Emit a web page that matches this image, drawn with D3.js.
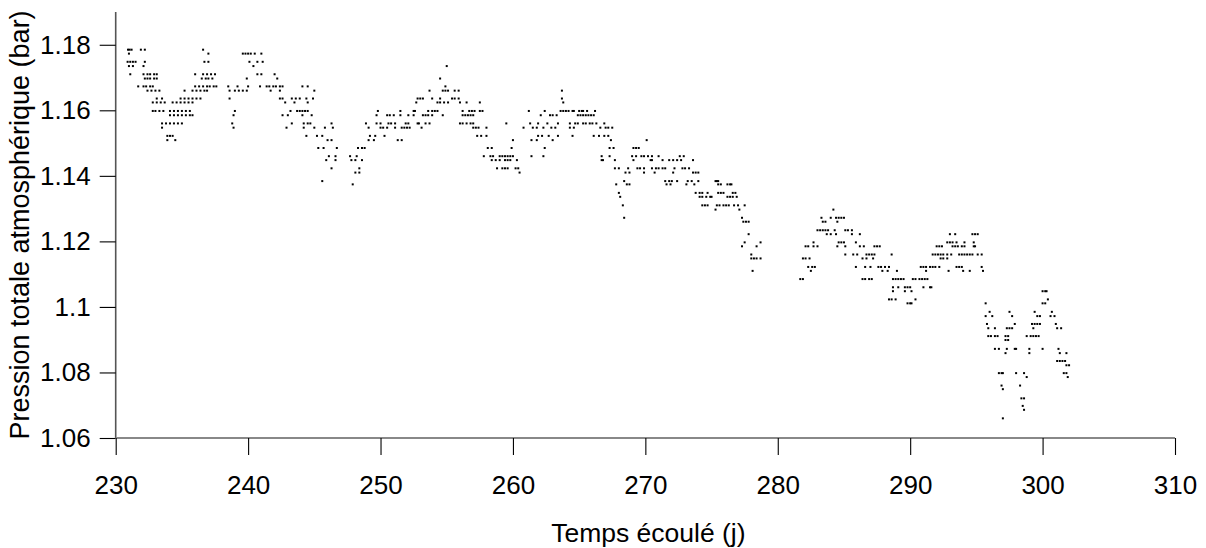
<!DOCTYPE html>
<html><head><meta charset="utf-8">
<script src="https://cdn.jsdelivr.net/npm/d3@7"></script>
<style>body{margin:0;background:#fff}svg{display:block}text{font-family:"Liberation Sans",Arial,Helvetica,sans-serif;fill:#000}</style>
</head><body><svg id="c" width="1206" height="548"></svg>
<script>
const xTicks = [230,240,250,260,270,280,290,300,310];
const yTicks = [1.06,1.08,1.10,1.12,1.14,1.16,1.18];
const yTickLabels = ["1.06","1.08","1.1","1.12","1.14","1.16","1.18"];
const xTitle = "Temps écoulé (j)";
const yTitle = "Pression totale atmosphérique (bar)";

// pressure levels (bar) and the days (j) at which each level was recorded
const pressureLevels = [1.1785,1.1773,1.1748,1.1735,1.171,1.1697,1.1673,1.166,1.1636,1.1624,1.1598,1.1585,1.156,1.1547,1.1522,1.1509,1.1485,1.146,1.1448,1.1423,1.141,1.1384,1.1374,1.1348,1.1336,1.131,1.1297,1.1272,1.126,1.1234,1.1222,1.1197,1.1185,1.116,1.1148,1.1122,1.111,1.1085,1.106,1.1048,1.1023,1.1011,1.0985,1.0972,1.0948,1.0935,1.0911,1.0899,1.0872,1.0859,1.0835,1.0822,1.0798,1.0786,1.076,1.0749,1.0721,1.0698,1.0686,1.066];
const daysAtLevel = [
[230.93,231.05,231.2,231.9,232.2,236.6],
[231.0,237.0,239.6,239.8,240.0,240.2,240.5,241.0],
[230.9,231.1,231.3,231.5,232.2,236.7,237.0,240.1,240.7,241.1],
[231.0,231.3,232.1,240.4,255.0],
[231.1,232.1,232.4,232.6,232.9,233.1,236.0,236.6,236.9,237.2,237.5,240.7,241.0,242.0],
[232.2,232.4,232.6,232.9,233.1,236.5,236.8,237.0,237.3,239.9,242.2,254.5],
[231.7,232.1,232.3,232.6,232.8,236.0,236.3,236.6,236.9,237.1,237.4,237.6,238.5,239.2,240.0,240.9,241.4,241.6,241.9,242.1,242.4,242.6,244.1,244.5,254.9],
[232.4,232.7,233.0,233.3,235.2,235.8,236.1,236.4,236.7,236.9,238.6,239.0,239.3,239.6,239.9,241.7,242.4,245.0,253.7,254.7,254.9,255.1,255.6,255.9,263.7],
[233.1,233.5,234.9,235.2,235.5,235.8,236.1,236.4,238.6,242.4,242.6,243.3,243.6,243.9,244.4,244.9,252.8,253.0,253.2,253.9,254.5,255.4,255.6,255.9,263.7],
[232.8,233.1,233.4,233.7,234.3,234.6,234.9,235.2,235.5,235.8,242.8,243.5,244.5,252.7,254.3,254.5,254.8,255.1,256.0,256.5,257.5,263.8],
[232.8,233.0,233.3,233.6,234.1,234.4,234.7,235.0,235.3,235.6,239.0,243.2,243.7,243.9,244.1,244.3,244.5,249.8,251.5,252.5,252.6,253.6,253.9,254.1,254.3,256.2,256.7,256.9,257.1,257.5,257.7,261.2,262.4,263.6,263.8,264.0,264.2,264.5,264.6,265.0,265.2,265.3,265.6,266.2],
[234.1,234.4,234.7,235.0,235.3,235.6,235.8,238.9,242.6,243.0,244.1,244.8,249.7,250.5,250.7,251.0,251.5,252.1,252.5,253.2,253.4,253.6,253.9,254.7,256.2,256.4,256.6,256.8,257.0,262.1,262.8,263.0,263.3,264.9,265.1,265.3,265.5,265.7,265.9,266.1],
[233.5,233.8,234.1,234.4,234.7,235.0,238.8,243.3,244.2,244.5,244.7,246.3,248.9,249.7,250.0,250.6,250.8,251.1,251.9,252.1,252.8,252.9,253.4,253.7,256.0,256.2,256.5,256.8,257.0,259.5,261.3,261.9,262.6,263.4,264.3,264.7,264.9,265.3,265.5,265.8,266.0,266.3,266.9],
[233.5,238.9,242.9,244.2,245.0,245.8,246.4,249.1,250.0,250.2,250.5,251.1,251.6,251.8,252.0,252.2,253.1,257.0,257.2,257.4,258.0,260.8,261.5,261.8,262.3,262.9,263.2,264.3,264.6,266.6,267.0,267.2,267.5],
[233.9,234.1,234.3,244.4,245.2,245.6,249.2,249.6,250.3,257.3,257.6,258.0,261.9,262.2,262.7,263.4,264.5,266.1,266.5,266.9,267.2],
[233.9,234.5,246.0,246.3,249.1,249.5,251.3,251.6,260.0,261.4,261.8,263.0,267.4,270.1],
[245.3,245.7,246.7,248.3,248.6,248.8,258.1,258.4,259.9,262.4,267.3,267.6,269.1,269.3,269.5],
[246.1,246.6,247.7,248.2,257.8,258.3,258.5,259.0,259.2,259.4,259.6,259.8,260.0,261.4,262.3,266.7,267.3,269.0,269.3,269.7,269.9,270.2,270.5,271.0,272.6,272.9],
[245.9,246.6,247.8,248.1,248.6,258.4,258.7,259.0,259.4,259.6,259.8,260.3,266.7,266.8,267.7,269.1,270.4,270.5,271.3,271.8,272.1,272.4,272.7,273.6],
[246.3,248.4,258.8,259.2,259.4,259.6,260.2,260.4,267.7,268.0,268.7,269.4,269.6,269.9,270.5,270.8,271.0,271.3,271.5,272.2,272.8,273.0,273.3],
[248.1,248.4,260.5,268.5,268.8,269.9,270.7,272.1,273.6,273.8,274.0],
[245.6,268.4,271.5,271.8,272.0,272.4,273.2,273.5,274.0,275.3,275.4,275.5],
[247.9,267.8,268.6,268.8,271.6,271.9,273.1,273.7,275.5,275.7,276.2,276.4,276.5],
[268.0,273.8,274.1,274.3,274.7,275.5,275.7,275.9,276.6,276.8],
[268.1,274.1,274.3,274.6,274.9,275.0,276.2,276.4,276.6,276.9],
[268.3,274.3,274.5,274.7,275.4,275.6,275.9,276.1,276.3,276.7,277.0,277.5],
[275.3,277.1,284.2],
[268.4,277.3,283.3,284.0,284.4,284.6,284.8,285.0],
[277.4,277.6,277.8,283.4,283.6,284.5],
[283.0,283.2,283.4,283.6,283.8,284.3,285.1,285.3,285.6],
[277.8,283.7,284.0,284.4,285.6,286.2,293.0,293.4,294.7,294.9,295.1],
[277.5,278.7,282.7,284.6,284.8,285.0,285.9,292.8,293.0,293.2,293.5,294.1,294.8],
[277.3,278.4,282.1,282.3,282.7,283.0,284.5,285.1,286.2,286.5,287.3,287.5,287.7,292.0,292.2,292.4,293.2,293.4,293.6,293.9,294.1,294.8,294.9],
[278.0,285.1,285.7,286.0,286.7,286.9,287.1,287.3,288.6,291.7,291.9,292.1,292.3,292.5,292.8,293.1,293.7,293.9,294.1,294.3,294.5,294.7,295.1,295.4],
[278.0,278.2,278.4,278.7,281.9,282.1,282.4,286.4,286.7,287.2,292.3,292.5,292.8],
[282.3,282.6,282.8,285.9,286.6,287.0,287.6,287.8,288.1,288.4,290.8,291.0,291.2,291.5,291.7,291.9,292.2,293.5,293.7,293.9,295.4],
[278.1,282.5,287.9,288.3,289.0,291.2,292.9,294.0,294.5,295.5],
[281.7,281.9,286.4,286.6,286.9,287.1,288.7,288.9,289.1,289.3,289.5,290.2,290.4,290.7,290.9,291.1,291.3],
[288.7,289.1,289.6,289.8,290.0,291.0,291.5,291.6],
[288.7,289.6,290.1,300.0,300.2,300.3],
[288.4,288.6,288.9,290.4,300.4],
[289.8,290.0,290.1,295.7,300.0,300.2],
[296.0,297.5,299.4,300.7],
[295.7,296.2,297.7,299.6,299.8,300.6,300.9],
[295.8,297.9,299.2,299.4,299.6,299.8,301.0],
[295.9,296.4,297.3,297.5,297.7,299.3,301.1,301.4],
[295.9,296.1,296.4,296.6,297.2,297.4,298.8,299.1,299.3,299.5,299.7],
[297.2,297.4],
[296.4,296.7,297.3,297.9,298.0,299.0,300.0,301.2],
[297.2,299.0,301.3,301.8],
[301.1,301.3,301.5,301.7],
[301.8,302.0],
[296.7,296.9,297.0,298.0,298.6,301.6,301.8],
[298.8,301.9],
[296.9,298.3],
[297.0],
[298.4,298.6],
[298.5],
[298.6],
[297.0]
];

const points = pressureLevels.flatMap((p, i) => daysAtLevel[i].map(d => ({day: d, p: p})));

const svg = d3.select("#c");
const x = d3.scaleLinear().domain([230, 310]).range([115.7, 1175]);
const y = d3.scaleLinear().domain([1.06, 1.19]).range([438, 12]);

// points
svg.append("g").selectAll("rect").data(points).join("rect")
  .attr("x", d => x(d.day) - 1).attr("y", d => y(d.p) - 1)
  .attr("width", 2).attr("height", 2).attr("fill", "#000");

// y axis
const ya = svg.append("g").attr("transform", `translate(${x(230)},0)`)
  .call(d3.axisLeft(y).tickValues(yTicks).tickSize(16).tickPadding(9)
    .tickFormat((d, i) => yTickLabels[i]));
ya.select(".domain").attr("d", `M0,${y(1.19)}V${y(1.06)}`).attr("stroke", "#555").attr("stroke-width", 1.6);
ya.selectAll(".tick line").attr("stroke", "#000").attr("stroke-width", 1.1);
ya.selectAll(".tick text").attr("font-size", 26).attr("font-family", "Liberation Sans, Arial, sans-serif").attr("fill", "#000");

// x axis
const xa = svg.append("g").attr("transform", `translate(0,${y(1.06)})`)
  .call(d3.axisBottom(x).tickValues(xTicks).tickSize(17).tickPadding(21).tickFormat(d3.format("d")));
xa.select(".domain").attr("d", `M${x(230)},0H${x(310)}`).attr("stroke", "#888").attr("stroke-width", 2);
xa.selectAll(".tick line").attr("stroke", "#000").attr("stroke-width", 1.1);
xa.selectAll(".tick text").attr("font-size", 26).attr("font-family", "Liberation Sans, Arial, sans-serif").attr("fill", "#000");

// titles
svg.append("text").attr("x", (x(230) + x(310)) / 2 + 3).attr("y", 542)
  .attr("text-anchor", "middle").attr("font-size", 26.5).text(xTitle);
svg.append("text").attr("transform", `translate(29,${(y(1.06) + y(1.19)) / 2}) rotate(-90)`)
  .attr("text-anchor", "middle").attr("font-size", 27).text(yTitle);
</script></body></html>
